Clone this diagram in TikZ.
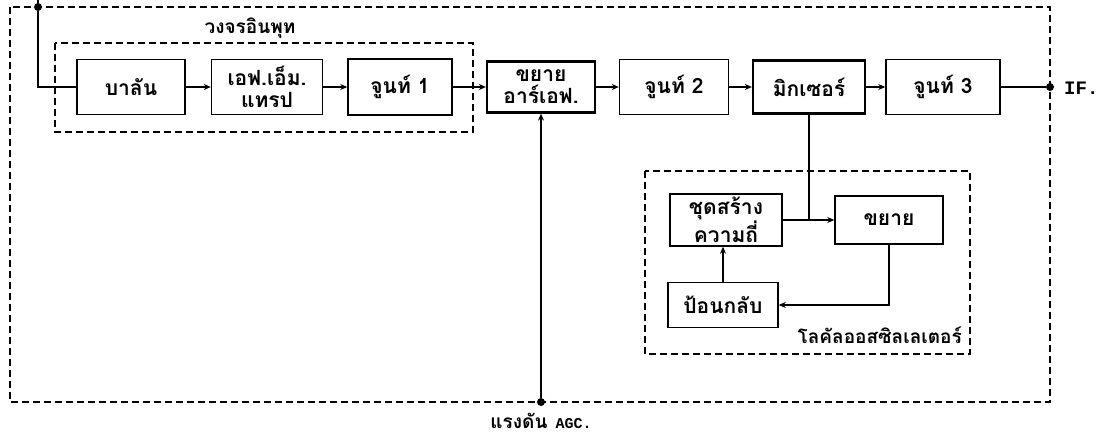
\documentclass[tikz,border=0pt]{standalone}
\usepackage{fontspec}
\newfontfamily\thai[Script=Thai]{Loma}
\newfontfamily\latmono{Liberation Mono}
\usetikzlibrary{arrows.meta}
\begin{document}
\begin{tikzpicture}[x=1pt,y=-1pt,
  box/.style={draw,line width=1.4pt,inner sep=0pt,font=\thai\bfseries\fontsize{21}{22}\selectfont,align=center},
  thickbox/.style={box,line width=2.2pt},
  dbox/.style={draw,line width=1.4pt,dash pattern=on 7pt off 4pt},
  wire/.style={line width=1.4pt},
  arr/.style={wire,-{Stealth[length=7pt,width=6pt]}},
  dot/.style={circle,fill,inner sep=0pt,minimum size=8pt},
  lbl/.style={font=\thai\bfseries\fontsize{19}{20}\selectfont,inner sep=0pt}]
\useasboundingbox (0,0) rectangle (1112,438);
% dashed enclosures
\draw[dbox] (10,7) rectangle (1050,402);
\draw[dbox] (55,43) rectangle (473,132);
\draw[dbox] (645,171) rectangle (970,354);
% boxes
\node[box,minimum width=108pt,minimum height=55pt] (balun) at (131,87) {บาลัน};
\node[box,minimum width=111pt,minimum height=55pt] (fm) at (267,87) {เอฟ.เอ็ม.\\แทรป};
\node[box,minimum width=104pt,minimum height=56pt] (t1) at (400,87) {จูนท์ 1};
\node[thickbox,minimum width=108pt,minimum height=51pt] (rf) at (541,87) {ขยาย\\อาร์เอฟ.};
\node[box,minimum width=109pt,minimum height=55pt] (t2) at (674,87) {จูนท์ 2};
\node[thickbox,minimum width=112pt,minimum height=53pt] (mix) at (809,87) {มิกเซอร์};
\node[box,minimum width=114pt,minimum height=55pt] (t3) at (943,87) {จูนท์ 3};
\node[box,minimum width=112pt,minimum height=52pt] (osc) at (726,220) {ชุดสร้าง\\ความถี่};
\node[box,minimum width=108pt,minimum height=48pt] (amp) at (889,220) {ขยาย};
\node[box,minimum width=110pt,minimum height=45pt] (fb) at (723,305) {ป้อนกลับ};
% junction dots
\coordinate (top) at (38,0);
\node[dot] (j1) at (38,7) {};
\node[dot] (ifd) at (1050,87) {};
\node[dot] (agc) at (541,402) {};
% labels
\node[lbl] (lin) at (250,28) {วงจรอินพุท};
\node[lbl,anchor=east] (losc) at (962,335) {โลคัลออสซิลเลเตอร์};
\node[inner sep=0pt,anchor=west,font=\latmono\bfseries\fontsize{19}{20}\selectfont] (iflbl) at (1064,88) {IF.};
\node[inner sep=0pt,font=\thai\bfseries\fontsize{19}{20}\selectfont] (agclbl) at (541,421) {แรงดัน\hspace{8pt}{\latmono\bfseries\fontsize{15}{16}\selectfont AGC.}};
% wires
\draw[wire] (top) -- (j1) -- (j1 |- balun.west) -- (balun.west);
\draw[arr] (balun.east) -- (fm.west);
\draw[arr] (fm.east) -- (t1.west);
\draw[arr] (t1.east) -- (rf.west);
\draw[arr] (rf.east) -- (t2.west);
\draw[arr] (t2.east) -- (mix.west);
\draw[arr] (mix.east) -- (t3.west);
\draw[wire] (t3.east) -- (ifd);
\draw[arr] (agc) -- (rf.south);
\draw[wire] (mix.south) -- (mix.south |- osc.east);
\draw[arr] (osc.east) -- (amp.west);
\draw[arr] (amp.south) -- (amp.south |- fb.east) -- (fb.east);
\draw[arr] (fb.north) -- (fb.north |- osc.south);
\end{tikzpicture}
\end{document}
